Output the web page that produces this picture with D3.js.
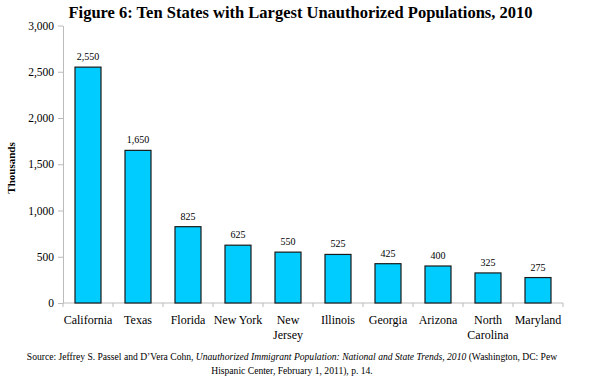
<!DOCTYPE html>
<html><head><meta charset="utf-8">
<script src="https://cdn.jsdelivr.net/npm/d3@7"></script>
<style>
body{margin:0;background:#fff;}
svg text{font-family:"Liberation Serif","Times New Roman",serif !important;}
</style></head>
<body><svg id="c" width="590" height="379"></svg>
<script>
const categories = [["California"],["Texas"],["Florida"],["New York"],["New","Jersey"],["Illinois"],["Georgia"],["Arizona"],["North","Carolina"],["Maryland"]];
const values = [2550,1650,825,625,550,525,425,400,325,275];
const yTicks = [0,500,1000,1500,2000,2500,3000];
const title = "Figure 6: Ten States with Largest Unauthorized Populations, 2010";
const yLabel = "Thousands";

const svg = d3.select("#c");
const m = {l:63, r:27, t:25.5, b:76};
const W = 590, H = 379;
const x = d3.scaleBand().domain(categories.map((d,i)=>i)).range([m.l, W-m.r]).paddingInner(0.48).paddingOuter(0.24);
const y = d3.scaleLinear().domain([0,3000]).range([H-m.b, m.t]);
const fmt = d3.format(",");
const SERIF = "'Liberation Serif','Times New Roman',serif";

// title
svg.append("text").attr("x",300.5).attr("y",18).attr("text-anchor","middle")
  .attr("font-size",16.5).attr("font-weight","bold").text(title);

// y axis
const ya = svg.append("g").attr("transform",`translate(${m.l},0)`)
  .call(d3.axisLeft(y).tickValues(yTicks).tickFormat(fmt).tickSize(5).tickSizeOuter(0).tickPadding(4));
ya.attr("font-family",SERIF);
ya.select(".domain").attr("stroke","#bbb");
ya.selectAll(".tick line").attr("stroke","#bbb");
ya.selectAll(".tick text").attr("font-size",11.5).attr("fill","#000").style("font-family",SERIF);

svg.append("text").attr("transform","translate(15,168) rotate(-90)").attr("text-anchor","middle")
  .attr("font-size",11).attr("font-weight","bold").text(yLabel);

// x axis
const xa = svg.append("g").attr("transform",`translate(0,${y(0)})`);
xa.append("line").attr("x1",m.l).attr("x2",W-m.r).attr("stroke","#bbb");
const boundaries = d3.range(categories.length+1).map(i=> m.l + i*(W-m.l-m.r)/categories.length);
xa.selectAll("line.t").data(boundaries).join("line").attr("class","t")
  .attr("x1",d=>d).attr("x2",d=>d).attr("y1",0).attr("y2",4).attr("stroke","#bbb");

// bars
svg.selectAll("rect.bar").data(values).join("rect").attr("class","bar")
  .attr("x",(d,i)=>x(i)).attr("width",x.bandwidth())
  .attr("y",d=>y(d)).attr("height",d=>y(0)-y(d))
  .attr("fill","#00CCFF").attr("stroke","#1a1a1a").attr("stroke-width",1.2);

// value labels
svg.selectAll("text.val").data(values).join("text").attr("class","val")
  .attr("x",(d,i)=>x(i)+x.bandwidth()/2).attr("y",d=>y(d)-7)
  .attr("text-anchor","middle").attr("font-size",10).text(d=>fmt(d));

// category labels
categories.forEach((lines,i)=>{
  const t = svg.append("text").attr("text-anchor","middle").attr("font-size",12)
    .attr("x",x(i)+x.bandwidth()/2).attr("y",y(0)+21);
  lines.forEach((l,j)=>t.append("tspan").attr("x",x(i)+x.bandwidth()/2).attr("dy",j?15:0).text(l));
});

// source
const s1 = svg.append("text").attr("x",292).attr("y",360).attr("text-anchor","middle").attr("font-size",9.6);
s1.append("tspan").text("Source: Jeffrey S. Passel and D\u2019Vera Cohn, ");
s1.append("tspan").attr("font-style","italic").text("Unauthorized Immigrant Population: National and State Trends, 2010");
s1.append("tspan").text("  (Washington, DC: Pew");
svg.append("text").attr("x",292).attr("y",374).attr("text-anchor","middle").attr("font-size",9.6)
  .text("Hispanic Center, February 1, 2011), p. 14.");
</script></body></html>
